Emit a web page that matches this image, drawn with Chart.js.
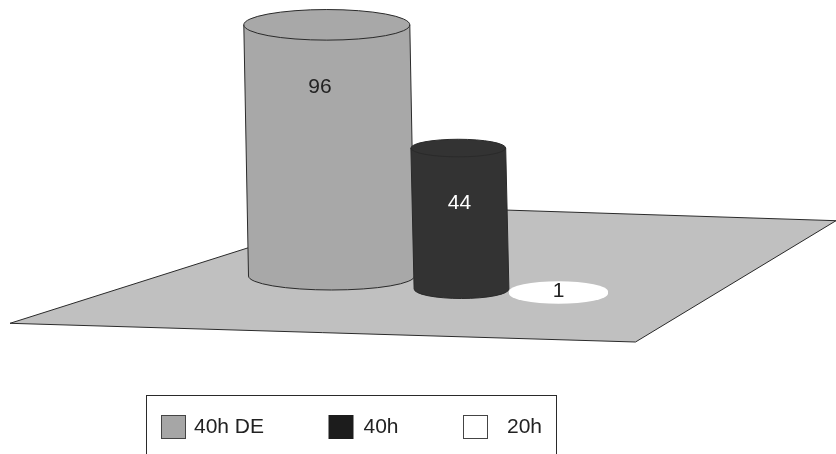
<!DOCTYPE html>
<html>
<head>
<meta charset="utf-8">
<title>Cylinders</title>
<script src="https://cdn.jsdelivr.net/npm/chart.js@4"></script>
<style>
html, body { margin: 0; padding: 0; background: #fff; overflow: hidden; }
#wrap { width: 836px; height: 454px; }
</style>
</head>
<body>
<div id="wrap"><canvas id="chart"></canvas></div>
<script>
const categories = ['40h DE', '40h', '20h'];
const values = [96, 44, 1];

const bodyColors = ['#a8a8a8', '#333333', '#ffffff'];
const legendColors = ['#a6a6a6', '#1c1c1c', '#ffffff'];
const labelColors = ['#222222', '#ffffff', '#222222'];

// perspective tweaks per cylinder: shift of the base, stretch of the height, lean of the top
const shapes = [
    { dx: -3.5, dy: -16, stretch: 0.896, lean: -4.7, rx: 83, ryTop: 15.3, ryBase: 14, labelDx: -11.5, labelY: 87, line: true },
    { dx: 12, dy: -3, stretch: 1.097, lean: -3.2, rx: 47.4, ryTop: 8.8, ryBase: 9.5, labelDx: -2, labelY: 203, line: true },
    { dx: -5.5, dy: 1.5, stretch: 0.7, lean: 0, rx: 49.5, ryTop: 10.3, ryBase: 10.3, labelDx: 0, labelY: 291, line: false }
];
const floorCorners = [[10, 323.3], [635.5, 342], [836, 220.7], [380, 206]];
const legendBox = { left: 146.5, top: 395.5, right: 556.5 };
const legendSwatchX = [161.5, 329, 463.5];
const legendTextX = [194, 363.5, 507];

const FONT = '21px "Liberation Sans", Arial, sans-serif';
const LINE = '#2a2a2a';

function drawFloor(ctx) {
    ctx.beginPath();
    floorCorners.forEach((p, i) => i ? ctx.lineTo(p[0], p[1]) : ctx.moveTo(p[0], p[1]));
    ctx.closePath();
    ctx.fillStyle = '#c0c0c0';
    ctx.fill();
    ctx.strokeStyle = LINE;
    ctx.lineWidth = 1;
    ctx.stroke();
}

function drawCylinder(ctx, el, i) {
    const s = shapes[i];
    const bx = el.x + s.dx;
    const by = el.base + s.dy;
    const tx = bx + s.lean;
    const ty = by - (el.base - el.y) * s.stretch;

    ctx.beginPath();
    ctx.moveTo(tx - s.rx, ty);
    ctx.lineTo(bx - s.rx, by);
    ctx.ellipse(bx, by, s.rx, s.ryBase, 0, Math.PI, 0, true);
    ctx.lineTo(tx + s.rx, ty);
    ctx.closePath();
    ctx.fillStyle = bodyColors[i];
    ctx.fill();
    if (s.line) {
        ctx.strokeStyle = LINE;
        ctx.lineWidth = 1;
        ctx.stroke();
    }

    ctx.beginPath();
    ctx.ellipse(tx, ty, s.rx, s.ryTop, 0, 0, Math.PI * 2);
    ctx.fillStyle = bodyColors[i];
    ctx.fill();
    if (s.line) ctx.stroke();

    ctx.fillStyle = labelColors[i];
    ctx.font = FONT;
    ctx.textAlign = 'center';
    ctx.textBaseline = 'middle';
    ctx.fillText(String(values[i]), bx + s.labelDx, s.labelY);
}

function drawLegend(ctx) {
    const bottom = ctx.canvas.height + 2;
    ctx.strokeStyle = LINE;
    ctx.lineWidth = 1;
    ctx.strokeRect(legendBox.left, legendBox.top, legendBox.right - legendBox.left, bottom - legendBox.top);

    categories.forEach((name, i) => {
        ctx.fillStyle = legendColors[i];
        ctx.fillRect(legendSwatchX[i], 415.5, 24, 23);
        ctx.strokeStyle = i === 1 ? legendColors[i] : '#444444';
        ctx.strokeRect(legendSwatchX[i], 415.5, 24, 23);
        ctx.fillStyle = '#222222';
        ctx.font = FONT;
        ctx.textAlign = 'left';
        ctx.textBaseline = 'middle';
        ctx.fillText(name, legendTextX[i], 427.5);
    });
}

const cylinderPlugin = {
    id: 'cylinders',
    beforeDatasetsDraw(chart) {
        drawFloor(chart.ctx);
    },
    afterDatasetsDraw(chart) {
        const ctx = chart.ctx;
        ctx.save();
        chart.getDatasetMeta(0).data.forEach((el, i) => drawCylinder(ctx, el, i));
        drawLegend(ctx);
        ctx.restore();
    }
};

new Chart(document.getElementById('chart'), {
    type: 'bar',
    data: {
        labels: categories,
        datasets: [{
            label: 'Hours',
            data: values,
            backgroundColor: 'rgba(0, 0, 0, 0)',
            borderWidth: 0
        }]
    },
    options: {
        responsive: true,
        maintainAspectRatio: false,
        animation: false,
        layout: { padding: { left: 277.75, right: 214.75, top: 0, bottom: 162 } },
        scales: {
            x: { display: false },
            y: { display: false, min: 0, max: 100 }
        },
        plugins: {
            legend: { display: false },
            tooltip: { enabled: false }
        }
    },
    plugins: [cylinderPlugin]
});
</script>
</body>
</html>
